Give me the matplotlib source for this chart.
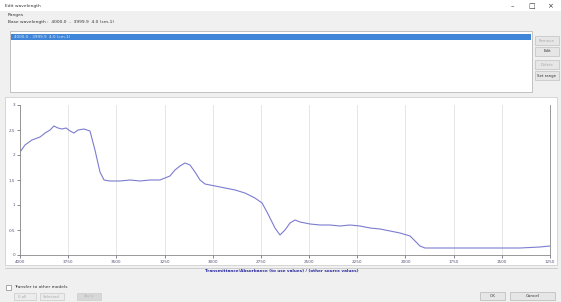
import matplotlib.pyplot as plt
import numpy as np
from matplotlib.patches import Rectangle

# spectrum
wavenumber = [4000, 3974, 3938, 3896, 3870, 3844, 3824, 3803, 3782, 3761, 3740,
              3720, 3699, 3668, 3637, 3611, 3585, 3564, 3533, 3481, 3429, 3377,
              3326, 3274, 3248, 3222, 3196, 3170, 3144, 3118, 3092, 3066, 3040,
              2988, 2936, 2884, 2833, 2781, 2744, 2713, 2677, 2651, 2625, 2599,
              2573, 2547, 2495, 2443, 2392, 2340, 2288, 2236, 2184, 2132, 2080,
              2028, 1976, 1950, 1925, 1899, 1821, 1717, 1613, 1509, 1406, 1302, 1250]
absorbance = [2.06, 2.20, 2.30, 2.36, 2.44, 2.50, 2.58, 2.54, 2.52, 2.54, 2.48,
              2.44, 2.50, 2.52, 2.48, 2.10, 1.66, 1.50, 1.48, 1.48, 1.50, 1.48,
              1.50, 1.50, 1.54, 1.58, 1.70, 1.78, 1.84, 1.80, 1.66, 1.50, 1.42,
              1.38, 1.34, 1.30, 1.24, 1.14, 1.04, 0.82, 0.54, 0.40, 0.50, 0.64,
              0.70, 0.66, 0.62, 0.60, 0.60, 0.58, 0.60, 0.58, 0.54, 0.52, 0.48,
              0.44, 0.38, 0.28, 0.18, 0.14, 0.14, 0.14, 0.14, 0.14, 0.14, 0.16, 0.18]
xticks = [4000, 3750, 3500, 3250, 3000, 2750, 2500, 2250, 2000, 1750, 1500, 1250]
yticks = [0, 0.5, 1, 1.5, 2, 2.5, 3]
ytick_labels = ["0", "0.5", "1", "1.5", "2", "2.5", "3"]

W, H = 561, 302
fig = plt.figure(figsize=(W / 100, H / 100), dpi=100)
fig.patch.set_facecolor("#f0f0f0")

# background "dialog" drawn in pixel coords
bg = fig.add_axes([0, 0, 1, 1])
bg.set_xlim(0, W)
bg.set_ylim(H, 0)
bg.axis("off")

def box(x, y, w, h, fc, ec="none", lw=0.6):
    bg.add_patch(Rectangle((x, y), w, h, facecolor=fc, edgecolor=ec, linewidth=lw))

txt = dict(fontsize=3.2, color="#333333", va="center")

# title bar
box(0, 0, W, 11, "white")
bg.text(5, 5.5, "Edit wavelength", **txt)
bg.text(512, 6, "\u2013", fontsize=5, color="#333333", va="center", ha="center")
bg.text(532, 6, "\u25a1", fontsize=5, color="#333333", va="center", ha="center")
bg.text(550, 6, "\u00d7", fontsize=5, color="#333333", va="center", ha="center")

bg.text(8, 15, "Ranges", **txt)
bg.text(8, 22, "Base wavelength :  4000.0  -  3999.9  4.0 (cm-1)", **txt)

# list box
box(10, 31, 522, 61, "white", "#b8b8b8")
box(11, 34, 520, 6, "#3f86d8")
bg.text(14, 37, "4000.0 - 3999.9  4.0 (cm-1)", fontsize=3, color="#dfe8f5", va="center")

# side buttons
for yb, label, on in [(36, "Remove", False), (47, "Edit", True),
                      (60, "Delete", False), (71, "Set range", True)]:
    box(535, yb, 24, 9, "#e6e6e6", "#c8c8c8")
    bg.text(547, yb + 4.5, label, fontsize=2.8, ha="center", va="center",
            color="#333333" if on else "#aaaaaa")

# chart panel
box(5, 97, 552, 168, "white", "#d0d0d0")
bg.plot([5, 557], [268, 268], color="#c8c8c8", lw=0.6)
bg.text(282, 270.5, "Transmittance/Absorbance (to use values) / (other source values)",
        fontsize=3, color="#2a2aa0", ha="center", va="center", fontweight="bold")

# bottom controls
box(6, 285, 5, 5, "white", "#888888", 0.5)
bg.text(14, 287.5, "Transfer to other models", **txt)
box(14, 293, 22, 7, "#ececec", "#d0d0d0")
bg.text(18, 296.5, "0 all", fontsize=2.8, color="#aaaaaa", va="center")
box(40, 293, 24, 7, "#ececec", "#d0d0d0")
bg.text(43, 296.5, "Selected", fontsize=2.8, color="#aaaaaa", va="center")
box(77, 293, 24, 7, "#d8d8d8", "#d0d0d0")
bg.text(89, 296.5, "Apply", fontsize=2.8, color="#bbbbbb", va="center", ha="center")
box(480, 292, 25, 8, "#e6e6e6", "#c0c0c0")
bg.text(492.5, 296, "OK", fontsize=3, color="#333333", va="center", ha="center")
box(510, 292, 45, 8, "#e6e6e6", "#c0c0c0")
bg.text(532.5, 296, "Cancel", fontsize=3, color="#333333", va="center", ha="center")

# spectrum axes
ax = fig.add_axes([20 / W, (H - 255) / H, 530 / W, 150 / H])
ax.set_facecolor("white")
ax.plot(wavenumber, absorbance, color="#7c7cd0", lw=0.8)
ax.set_xlim(4000, 1250)
ax.set_ylim(0, 3)
ax.set_xticks(xticks)
ax.set_yticks(yticks)
ax.set_yticklabels(ytick_labels)
ax.grid(axis="x", color="#e2e2e2", lw=0.6)
ax.tick_params(labelsize=3, colors="#555577", length=2, width=0.5, pad=1.5)
ax.spines["top"].set_visible(False)
for s in ["left", "bottom", "right"]:
    ax.spines[s].set_color("#888888")
    ax.spines[s].set_linewidth(0.6)

fig.savefig("out.png", dpi=100, facecolor=fig.get_facecolor())
